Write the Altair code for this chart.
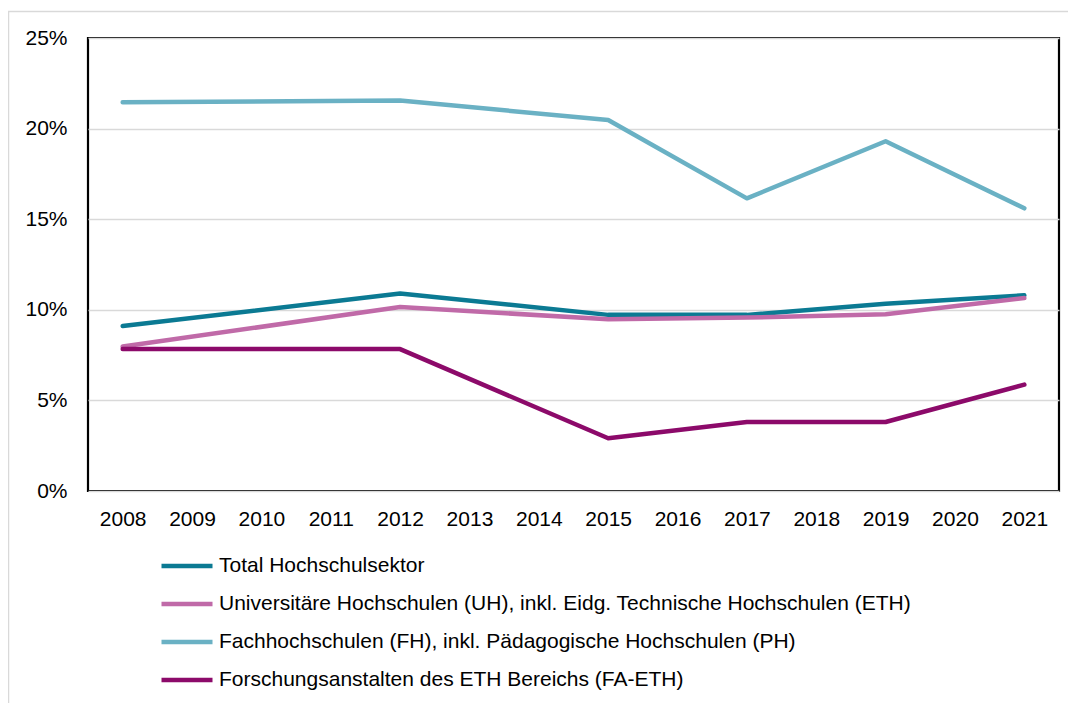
import altair as alt
import pandas as pd

years_axis = [str(y) for y in range(2008, 2022)]
years = ["2008", "2012", "2015", "2017", "2019", "2021"]

series_names = [
    "Total Hochschulsektor",
    "Universitäre Hochschulen (UH), inkl. Eidg. Technische Hochschulen (ETH)",
    "Fachhochschulen (FH), inkl. Pädagogische Hochschulen (PH)",
    "Forschungsanstalten des ETH Bereichs (FA-ETH)",
]
total = [9.1, 10.9, 9.72, 9.72, 10.33, 10.8]
uh = [7.97, 10.15, 9.48, 9.57, 9.76, 10.65]
fh = [21.45, 21.55, 20.47, 16.15, 19.3, 15.6]
fa = [7.83, 7.83, 2.91, 3.81, 3.81, 5.87]
colors = ["#0B7A93", "#C06AA8", "#6AB1C4", "#8C0A6A"]

rows = []
for name, vals in zip(series_names, [total, uh, fh, fa]):
    for y, v in zip(years, vals):
        rows.append({"Jahr": y, "Serie": name, "Wert": v / 100.0})
df = pd.DataFrame(rows)

W, H = 971, 453
FONT = "Liberation Sans"

lines = alt.Chart(df).mark_line(strokeWidth=4.5, strokeCap="round", strokeJoin="round").encode(
    x=alt.X("Jahr:O", scale=alt.Scale(domain=years_axis),
            axis=alt.Axis(title=None, labelAngle=0, ticks=False, domain=False, grid=False,
                          labelPadding=17, labelFontSize=21, labelFont=FONT, labelColor="#000000")),
    y=alt.Y("Wert:Q", scale=alt.Scale(domain=[0, 0.25], nice=False),
            axis=alt.Axis(title=None, values=[0, 0.05, 0.10, 0.15, 0.20, 0.25], format=".0%",
                          ticks=False, domain=False, grid=True, gridColor="#D9D9D9", gridWidth=1.5,
                          labelPadding=21, labelFontSize=21, labelFont=FONT, labelColor="#000000")),
    color=alt.Color("Serie:N", scale=alt.Scale(domain=series_names, range=colors),
                    legend=alt.Legend(title=None, orient="none", legendX=71, legendY=500,
                                      symbolType="stroke", symbolSize=2601, symbolStrokeWidth=4.5,
                                      labelFontSize=21, labelFont=FONT, labelColor="#000000",
                                      labelOffset=4, rowPadding=0, labelLimit=900)),
    order=alt.Order("Serie:N", sort="ascending"),
)

frame = alt.Chart(alt.Data(values=[{}])).mark_rect(
    filled=False, stroke="#D9D9D9", strokeWidth=1.5
).encode(
    x=alt.value(-79.5), x2=alt.value(1200), y=alt.value(-26.5), y2=alt.value(900)
)

chart = alt.layer(frame, lines).properties(
    width=W, height=H,
    background="white",
    autosize=alt.AutoSizeParams(type="none"),
    padding={"left": 80, "top": 30, "right": 9, "bottom": 212},
).configure_view(stroke="#000000", strokeWidth=2.2)

chart.save("out.html", embed_options={"renderer": "svg", "actions": False})
